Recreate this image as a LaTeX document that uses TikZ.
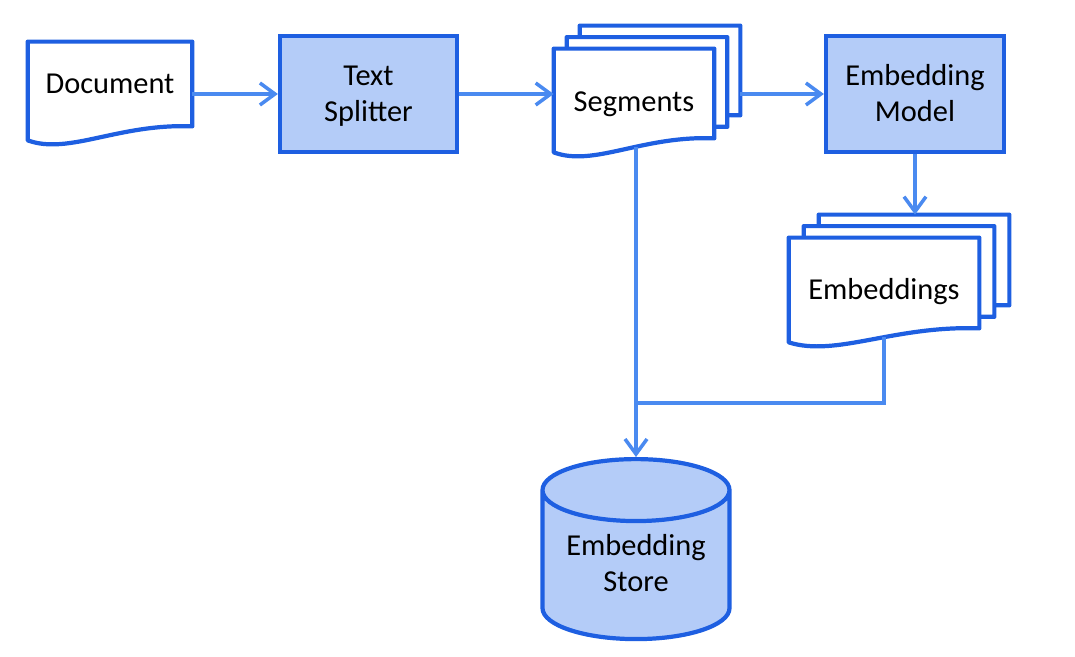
\documentclass[tikz,border=0pt]{standalone}
\usepackage{fontspec}
\setmainfont{Carlito}
\usetikzlibrary{calc,shapes.geometric,arrows.meta,backgrounds}

\definecolor{edgeblue}{RGB}{30,95,225}
\definecolor{fillblue}{RGB}{180,204,248}
\definecolor{linkblue}{RGB}{74,138,240}

\tikzset{
  page/.style={draw=none, minimum width=3.2cm, minimum height=2.06cm, inner sep=0pt},
  procbox/.style={draw=edgeblue, line width=2.4pt, fill=fillblue, minimum width=3.54cm, minimum height=2.32cm,
    align=center, text height=1.25cm, text depth=0.13cm},
  pageline/.style={draw=edgeblue, line width=2.4pt, fill=white, line join=round},
  link/.style={draw=linkblue, line width=2pt, -{Straight Barb[length=3mm,width=4.4mm]}},
  plainlink/.style={draw=linkblue, line width=2pt},
}

% page with a wavy bottom edge, drawn round a node
\newcommand{\docshape}[1]{%
  \path[pageline] (#1.south west) -- (#1.north west) -- (#1.north east)
    -- ($(#1.south east)+(0,0.28)$)
    .. controls ($(#1.south west)!0.55!(#1.south east)+(0,0.34)$)
    and ($(#1.south west)!0.25!(#1.south east)+(0,-0.3)$) .. (#1.south west) -- cycle;}

\begin{document}
\begin{tikzpicture}[font=\fontsize{17.3}{20.5}\selectfont]
    \useasboundingbox (0,0) rectangle (21.5,13.14);

    % Document
    \node[page, minimum width=3.28cm, minimum height=1.96cm, text height=0.4cm, text depth=0.28cm]
          (doc) at (2.2,11.32) {Document};

    % Text Splitter
    \node[procbox] (split) at (7.37,11.26) {Text\\Splitter};

    % Segments
    \node[page, text height=0.57cm, text depth=0.12cm] (seg) at (12.68,11.13) {Segments};
    \node[page] (seg2) at ($(seg)+(0.26,0.23)$) {};
    \node[page] (seg3) at ($(seg)+(0.52,0.46)$) {};

    % Embedding Model
    \node[procbox, minimum width=3.56cm] (model) at (18.3,11.26) {Embedding\\Model};

    % Embeddings
    \node[page, minimum width=3.8cm, minimum height=2.08cm, text height=0.52cm, text depth=0.12cm]
          (emb) at (17.68,7.34) {Embeddings};
    \node[page, minimum width=3.8cm, minimum height=2.08cm] (emb2) at ($(emb)+(0.3,0.23)$) {};
    \node[page, minimum width=3.8cm, minimum height=2.08cm] (emb3) at ($(emb)+(0.6,0.46)$) {};

    % Embedding Store
    \node[cylinder, shape border rotate=90, aspect=0.41, draw=edgeblue, line width=2.4pt,
          fill=fillblue, minimum width=3.74cm, minimum height=3.6cm, align=center, anchor=north,
          text depth=0.33cm]
          (store) at (12.72,4.0) {Embedding\\Store};

    % Pages
    \begin{scope}[on background layer]
      \docshape{doc}
      \docshape{seg3}
      \docshape{seg2}
      \docshape{seg}
      \docshape{emb3}
      \docshape{emb2}
      \docshape{emb}
    \end{scope}

    % Connections
    \coordinate (merge) at ($(store.north)+(0,1.08)$);
    \draw[link] (split.west -| doc.east) -- (split.west);
    \draw[link] (split.east) -- (split.east -| seg.west);
    \draw[link] (model.west -| seg3.east) -- (model.west);
    \draw[link] (model.south) -- (model.south |- emb3.north);
    \draw[link] ($(store.north |- seg.south)+(0,0.1)$) -- (store.north);
    \draw[plainlink] ($(emb.south)+(0,0.1)$) -- (emb.south |- merge) -- (merge);
\end{tikzpicture}
\end{document}
